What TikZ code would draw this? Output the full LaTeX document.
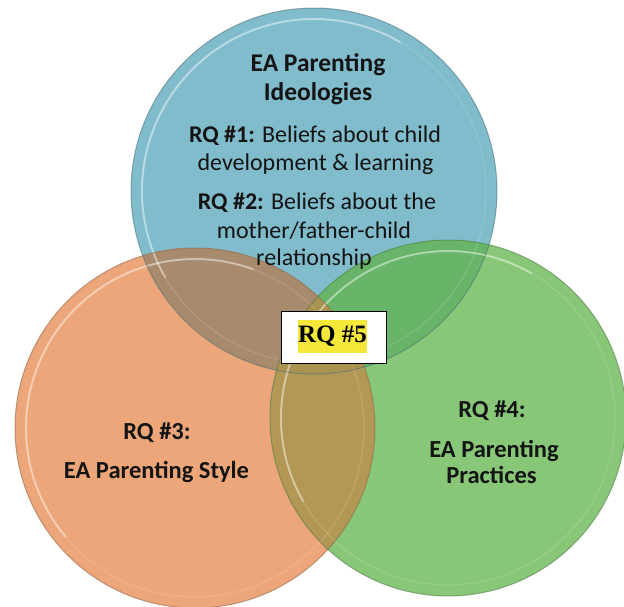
\documentclass[tikz,border=0pt]{standalone}
\usepackage{fontspec}
\setmainfont{Carlito}
\newfontfamily\timesfont{Liberation Serif}
\begin{document}
\begin{tikzpicture}[x=1pt,y=-1pt,
  lbl/.style={anchor=base,inner sep=0pt,text=black!92},
  big/.style={lbl,font=\fontsize{25.5}{29}\selectfont\bfseries},
  mid/.style={lbl,font=\fontsize{24.5}{28}\selectfont\bfseries},
  body/.style={lbl,font=\fontsize{24}{27}\selectfont},
  rim/.style={line width=1pt,draw opacity=0.55},
  shine/.style={line width=2pt,draw=white,draw opacity=0.4,line cap=round},
  faint/.style={line width=1pt,draw=white,draw opacity=0.15}]
\definecolor{cblue}{RGB}{128,188,203}
\definecolor{corange}{RGB}{236,166,122}
\definecolor{cgreen}{RGB}{136,199,120}
\definecolor{cbo}{RGB}{168,138,108}
\definecolor{cbg}{RGB}{104,180,104}
\definecolor{cog}{RGB}{178,152,84}
\definecolor{cbog}{RGB}{170,146,80}
\definecolor{hl}{RGB}{245,232,58}
\useasboundingbox (0,0) rectangle (624,606);
\clip (0,0) rectangle (624,606);
\def\B{(314,191) circle[radius=183]}
\def\O{(195,428) circle[radius=180]}
\def\G{(448,418) circle[radius=178]}
% base fills
\fill[cblue] \B;
\fill[corange] \O;
\fill[cgreen] \G;
% pairwise overlaps
\begin{scope}\clip \B; \fill[cbo] \O; \end{scope}
\begin{scope}\clip \B; \fill[cbg] \G; \end{scope}
\begin{scope}\clip \O; \fill[cog] \G; \end{scope}
\begin{scope}\clip \B; \clip \O; \fill[cbog] \G; \end{scope}
% inner bevel rings
\draw[faint] (314,191) circle[radius=172];
\draw[faint] (195,428) circle[radius=169];
\draw[faint] (448,418) circle[radius=167];
\draw[shine] (314,191) ++(150:172) arc[start angle=150,end angle=300,radius=172];
\draw[shine] (195,428) ++(140:169) arc[start angle=140,end angle=290,radius=169];
\draw[shine] (448,418) ++(150:167) arc[start angle=150,end angle=300,radius=167];
% rims
\draw[rim,draw=cblue!60!black] \B;
\draw[rim,draw=corange!60!black] \O;
\draw[rim,draw=cgreen!60!black] \G;
% top circle texts
\node[big] (t1) at (318,71) {EA Parenting};
\node[big] (t2) at (318,100) {Ideologies};
\node[body] (q1a) at (315,142) {\textbf{RQ \#1:} Beliefs about child};
\node[body] (q1b) at (315.5,170) {development \& learning};
\node[body] (q2a) at (317,209) {\textbf{RQ \#2:} Beliefs about the};
\node[body] (q2b) at (314,238) {mother/father-child};
\node[body] (q2c) at (314,265) {relationship};
% left circle
\node[mid] (q3a) at (157,439) {RQ \#3:};
\node[mid] (q3b) at (156.5,478) {EA Parenting Style};
% right circle
\node[mid] (q4a) at (492,417) {RQ \#4:};
\node[mid] (q4b) at (494,457) {EA Parenting};
\node[mid] (q4c) at (491.5,483) {Practices};
% center box
\node[draw=black,line width=1.5pt,fill=white,minimum width=105pt,minimum height=52pt,inner sep=0pt] (box) at (334,337.5) {};
\node[fill=hl,inner sep=0pt,minimum width=69pt,minimum height=33pt,font=\timesfont\fontsize{25}{28}\selectfont\bfseries,text=black] (q5) at (332.5,336.5) {RQ \#5};
\end{tikzpicture}
\end{document}
